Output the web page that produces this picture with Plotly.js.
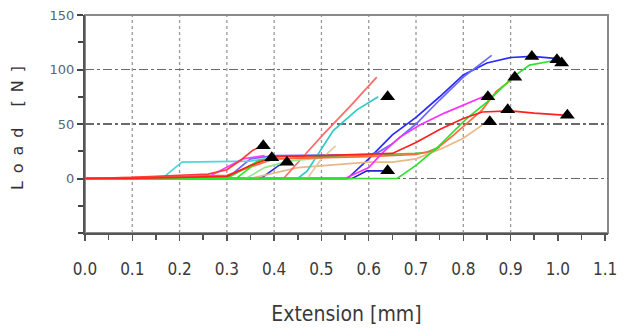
<!DOCTYPE html>
<html>
<head>
<meta charset="utf-8">
<script src="https://cdn.plot.ly/plotly-3.0.1.min.js"></script>
<style>
  html, body { margin: 0; padding: 0; background: #fff; }
  #chart { width: 635px; height: 328px; }
  .ytitle { letter-spacing: 8px; }
</style>
</head>
<body>
<div id="chart"></div>
<script>
// ---- Data (Extension [mm] vs Load [N]) ----
const blueMainX = [0, 0.555, 0.6, 0.65, 0.7, 0.75, 0.8, 0.85, 0.9, 0.945, 1.0];
const blueMainY = [0, 0, 18, 40, 56, 75, 95, 106, 111, 112, 110];

const blueThinX = [0, 0.3, 0.35, 0.4, 0.6, 0.62, 0.65, 0.7, 0.75, 0.8, 0.86];
const blueThinY = [0, 0, 18, 21, 22, 24, 32, 50, 72, 93, 113];

const darkBlueX = [0, 0.565, 0.596, 0.63];
const darkBlueY = [0, 0, 7, 7];

const darkBlueLeftX = [0, 0.372, 0.41, 0.425];
const darkBlueLeftY = [0, 0, 12, 15];

const magentaX = [0, 0.55, 0.6, 0.63, 0.666, 0.708, 0.76, 0.842];
const magentaY = [0, 0, 10, 24, 38, 49, 60, 75];

const magentaShortX = [0, 0.258, 0.334, 0.38];
const magentaShortY = [0, 1, 18, 21];

const pinkSteepX = [0, 0.42, 0.455, 0.503, 0.56, 0.617];
const pinkSteepY = [0, 0, 17, 40, 66, 93];

const cyanSteepX = [0, 0.45, 0.47, 0.525, 0.575, 0.6, 0.62];
const cyanSteepY = [0, 0, 7, 44, 63, 70, 75];

const cyanStepX = [0, 0.163, 0.205, 0.3, 0.35, 0.41];
const cyanStepY = [0, 0, 15, 16, 16, 20];

const tanX = [0, 0.35, 0.45, 0.6, 0.65, 0.7, 0.757, 0.8, 0.84];
const tanY = [0, 0, 10, 15, 15, 18, 28, 37, 49];

const tanSteepX = [0, 0.47, 0.5, 0.53];
const tanSteepY = [0, 0, 18, 30];

const orangeX = [0, 0.3, 0.4, 0.6, 0.7, 0.74, 0.78, 0.84, 0.87, 0.909];
const orangeY = [0, 3, 18, 20, 22, 26, 40, 63, 80, 93];

const greenMainX = [0, 0.66, 0.7, 0.744, 0.807, 0.85, 0.905, 0.94, 0.99, 1.004];
const greenMainY = [0, 0, 12, 28, 55, 70, 93, 104, 108, 107];

const greenBandX = [0, 0.3, 0.37, 0.5, 0.7, 0.723, 0.75];
const greenBandY = [0, 0, 17, 20, 23, 24, 29];

const greenShortX = [0, 0.32, 0.364, 0.395];
const greenShortY = [0, 0, 15, 19];

const lightGreenX = [0, 0.34, 0.38, 0.43, 0.5];
const lightGreenY = [0, 0, 10, 16, 19];

const redShortX = [0, 0.1, 0.2, 0.26, 0.3, 0.33, 0.355, 0.377];
const redShortY = [0, 1, 3, 4, 8, 17, 26, 30];

const redMainX = [0, 0.1, 0.2, 0.3, 0.35, 0.4, 0.5, 0.6, 0.65, 0.7, 0.75, 0.8, 0.84, 0.9, 0.95, 1.02];
const redMainY = [0, 0, 1, 2, 12, 20, 21, 22, 23, 33, 45, 55, 61, 62, 60, 58];

// failure points (black triangles)
const failX = [0.377, 0.395, 0.427, 0.64, 0.64, 0.852, 0.856, 0.894, 0.909, 0.945, 0.998, 1.008, 1.02];
const failY = [30, 19, 15, 75, 7, 75, 52, 63, 93, 112, 109, 106, 58];

// axis ticks
const xTicks = [0, 0.1, 0.2, 0.3, 0.4, 0.5, 0.6, 0.7, 0.8, 0.9, 1.0, 1.1];
const xTickText = ['0.0', '0.1', '0.2', '0.3', '0.4', '0.5', '0.6', '0.7', '0.8', '0.9', '1.0', '1.1'];
const xGrid = [0.1, 0.2, 0.3, 0.4, 0.5, 0.6, 0.7, 0.8, 0.9];
const yTicks = [0, 50, 100, 150];

// ---- Build traces ----
const series = [
  [blueMainX, blueMainY, '#2a2aff'],
  [blueThinX, blueThinY, '#6a6aff'],
  [darkBlueX, darkBlueY, '#2424c8'],
  [darkBlueLeftX, darkBlueLeftY, '#3030d0'],
  [tanX, tanY, '#e8b888'],
  [tanSteepX, tanSteepY, '#e8c8a0'],
  [cyanStepX, cyanStepY, '#50d8d8'],
  [cyanSteepX, cyanSteepY, '#30c8c8'],
  [pinkSteepX, pinkSteepY, '#ff6a6a'],
  [lightGreenX, lightGreenY, '#90e890'],
  [greenBandX, greenBandY, '#40d040'],
  [orangeX, orangeY, '#ff6a3a'],
  [magentaShortX, magentaShortY, '#ff40ff'],
  [magentaX, magentaY, '#ff30ff'],
  [greenMainX, greenMainY, '#30e030'],
  [greenShortX, greenShortY, '#20f020'],
  [redShortX, redShortY, '#ff3a3a'],
  [redMainX, redMainY, '#ff2020']
];

const traces = series.map(([x, y, c]) => ({
  x: x, y: y, type: 'scatter', mode: 'lines',
  line: { color: c, width: 1.7 },
  hoverinfo: 'skip', showlegend: false
}));

traces.push({
  x: failX, y: failY, type: 'scatter', mode: 'markers',
  marker: { symbol: 'triangle-up', size: 13, color: '#000' },
  hoverinfo: 'skip', showlegend: false
});

const shapes = xGrid.map(v => ({
  type: 'line', xref: 'x', yref: 'paper', x0: v, x1: v, y0: 0, y1: 1,
  line: { color: '#9a9a9a', width: 1.3, dash: 'dot' }, layer: 'below'
}));
shapes.push({
  type: 'rect', xref: 'paper', yref: 'paper', x0: 0, x1: 1, y0: 0, y1: 1,
  line: { color: '#8a8a8a', width: 2 }, layer: 'below'
});

const layout = {
  width: 635, height: 328,
  margin: { l: 85, r: 27, t: 15, b: 95 },
  paper_bgcolor: '#fff', plot_bgcolor: '#fff',
  showlegend: false,
  shapes: shapes,
  xaxis: {
    range: [0, 1.106],
    tickmode: 'array', tickvals: xTicks, ticktext: xTickText,
    showgrid: false, zeroline: false,
    showline: true, linecolor: '#555', linewidth: 2,
    ticks: 'outside', ticklen: 6, tickwidth: 1.5, tickcolor: '#555',
    minor: { dtick: 0.05, ticks: 'outside', ticklen: 5, tickwidth: 1.5, tickcolor: '#555', showgrid: false },
    ticklabelstandoff: 14,
    tickfont: { family: 'Liberation Sans Narrow, DejaVu Sans Condensed, sans-serif', size: 17, color: '#3a3a3a' },
    title: { text: 'Extension [mm]', standoff: 28,
      font: { family: 'DejaVu Sans Condensed, DejaVu Sans, sans-serif', size: 21, color: '#3a3a3a' } }
  },
  yaxis: {
    range: [-50, 150],
    tickmode: 'array', tickvals: yTicks,
    showgrid: true, gridcolor: '#6a6a6a', gridwidth: 1.3, griddash: 'dashdot',
    zeroline: false,
    showline: true, linecolor: '#555', linewidth: 2,
    ticks: 'outside', ticklen: 6, tickwidth: 2, tickcolor: '#444',
    minor: { dtick: 25, ticks: 'outside', ticklen: 5, tickwidth: 2, tickcolor: '#444', showgrid: false },
    tickfont: { family: 'DejaVu Sans, sans-serif', size: 13, color: '#5a6478' },
    title: { text: 'Load [N]', standoff: 22,
      font: { family: 'DejaVu Sans, sans-serif', size: 16, color: '#333' } }
  }
};

Plotly.newPlot('chart', traces, layout, { displayModeBar: false, staticPlot: true });
</script>
</body>
</html>
